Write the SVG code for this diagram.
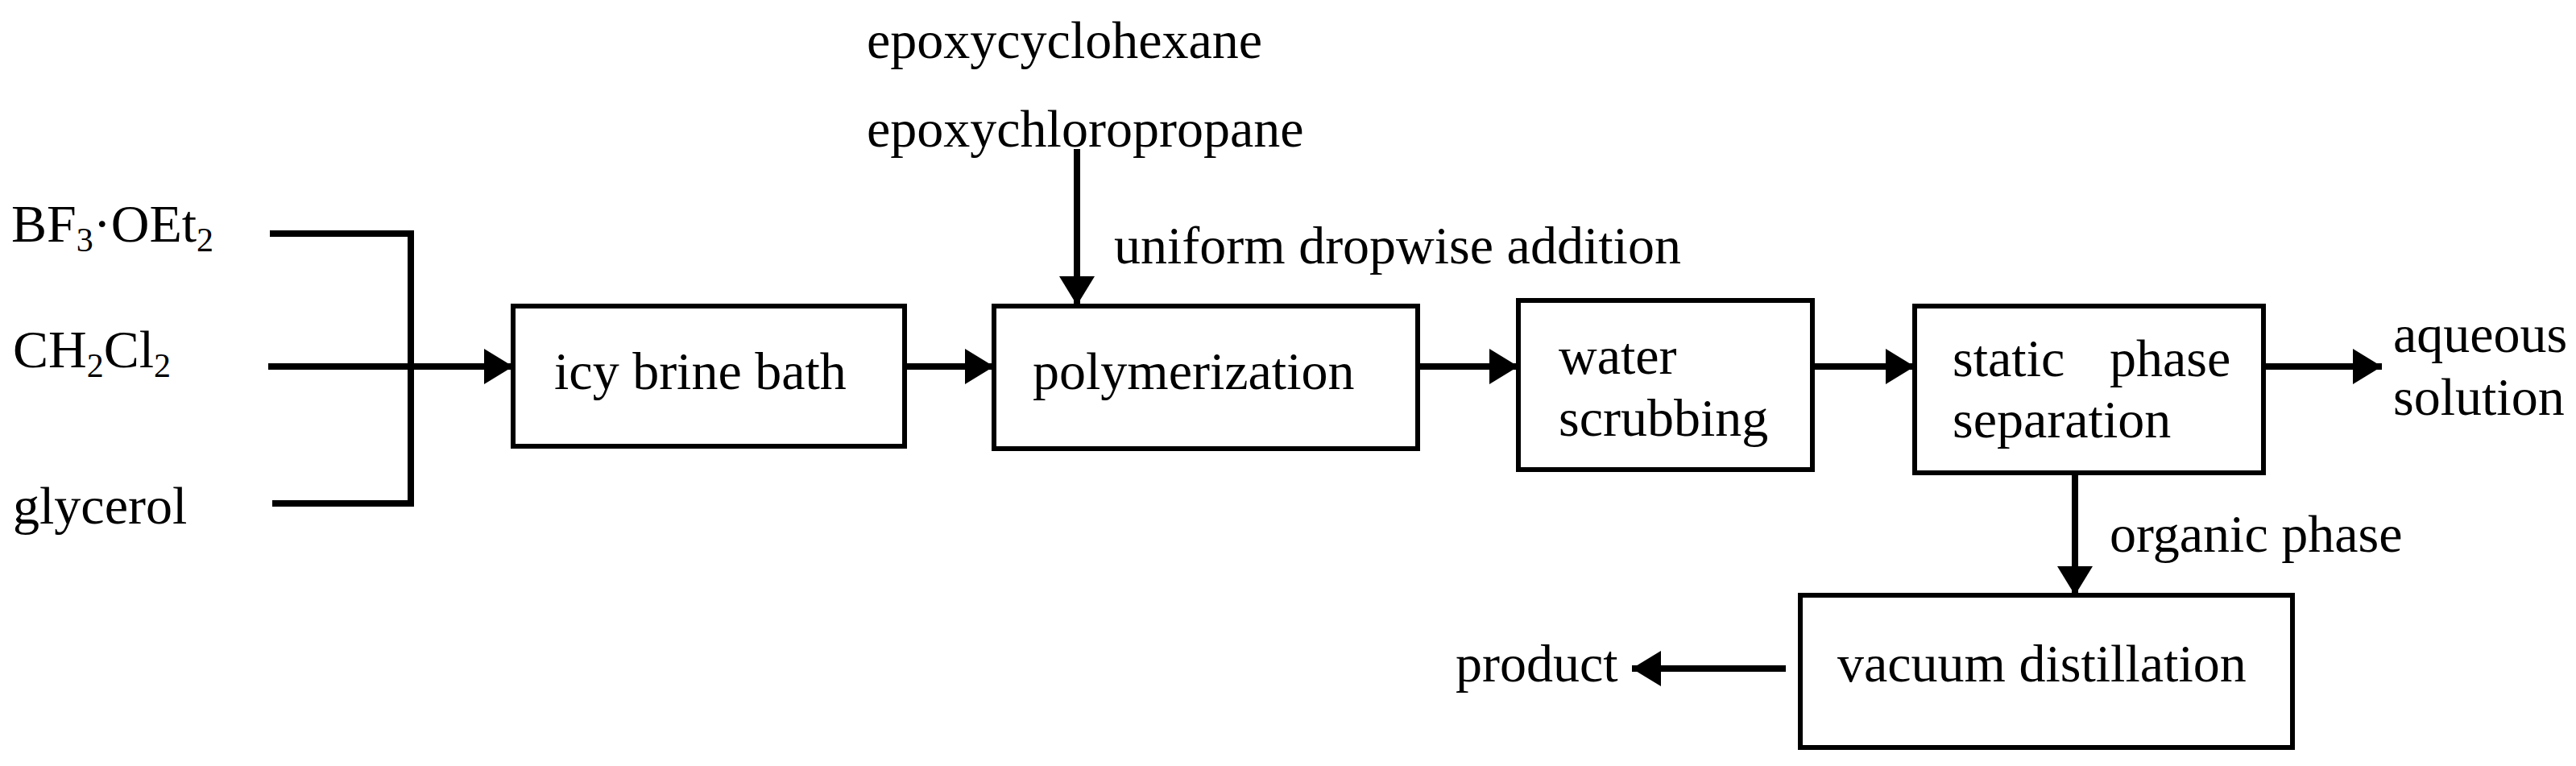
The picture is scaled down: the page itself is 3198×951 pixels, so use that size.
<svg xmlns="http://www.w3.org/2000/svg" width="3198" height="951" viewBox="0 0 3198 951">
<style>
text{font-family:"Liberation Serif","Times New Roman",serif;font-size:66px;fill:#000}
.box{fill:#fff;stroke:#000;stroke-width:6}
.ln{fill:none;stroke:#000;stroke-width:8}
.sub{font-size:42px}
</style>
<defs>
<marker id="ah" markerUnits="userSpaceOnUse" markerWidth="36" markerHeight="44" refX="36" refY="22" orient="auto"><path d="M0,0 L36,22 L0,44 Z" fill="#000"/></marker>
</defs>
<rect width="3198" height="951" fill="#fff"/>
<g id="inputs">
<text x="14" y="300">BF<tspan class="sub" dy="12">3</tspan><tspan dy="-12">·OEt</tspan><tspan class="sub" dy="12">2</tspan></text>
<text x="16" y="456">CH<tspan class="sub" dy="12">2</tspan><tspan dy="-12">Cl</tspan><tspan class="sub" dy="12">2</tspan></text>
<text x="16" y="650">glycerol</text>
<text x="1076" y="72">epoxycyclohexane</text>
<text x="1076" y="182">epoxychloropropane</text>
</g>
<g id="connectors">
<path class="ln" d="M335,290 H510 V625 H338"/>
<path class="ln" d="M333,455 H637" marker-end="url(#ah)"/>
<path class="ln" d="M1123,455 H1234" marker-end="url(#ah)"/>
<path class="ln" d="M1337,185 V379" marker-end="url(#ah)"/>
<path class="ln" d="M1760,455 H1885" marker-end="url(#ah)"/>
<path class="ln" d="M2250,455 H2377" marker-end="url(#ah)"/>
<path class="ln" d="M2810,455 H2957" marker-end="url(#ah)"/>
<path class="ln" d="M2576,587 V739" marker-end="url(#ah)"/>
<path class="ln" d="M2217,830 H2026" marker-end="url(#ah)"/>
<text x="1383" y="327">uniform dropwise addition</text>
<text x="2619" y="685">organic phase</text>
</g>
<g id="icy"><rect class="box" x="637" y="380" width="486" height="174"/><text x="688" y="483">icy brine bath</text></g>
<g id="poly"><rect class="box" x="1234" y="380" width="526" height="177"/><text x="1282" y="483">polymerization</text></g>
<g id="water"><rect class="box" x="1885" y="373" width="365" height="210"/><text x="1935" y="464">water</text><text x="1935" y="541">scrubbing</text></g>
<g id="static"><rect class="box" x="2377" y="380" width="433" height="207"/><text x="2424" y="467">static</text><text x="2619" y="467">phase</text><text x="2424" y="543">separation</text></g>
<g id="aqueous"><text x="2971" y="437">aqueous</text><text x="2971" y="515">solution</text></g>
<g id="vacuum"><rect class="box" x="2235" y="739" width="611" height="189"/><text x="2281" y="846">vacuum distillation</text></g>
<g id="product"><text x="1807" y="846">product</text></g>
</svg>
